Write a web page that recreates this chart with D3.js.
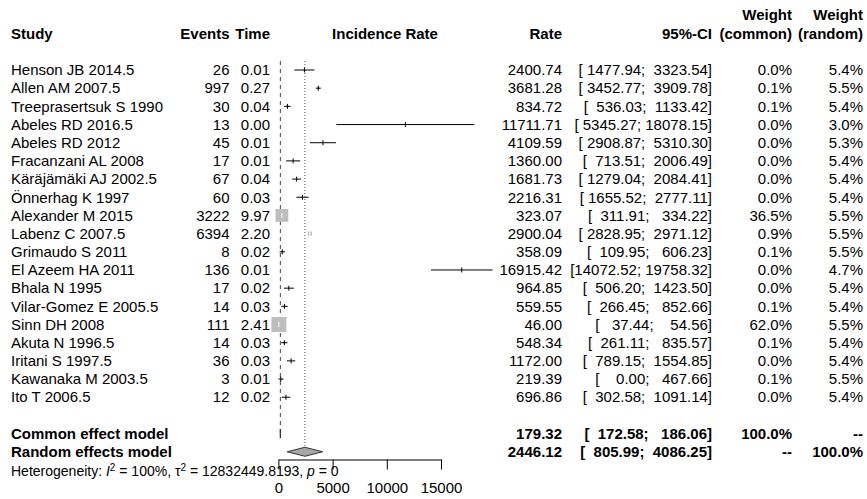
<!DOCTYPE html>
<html lang="en">
<head>
    <meta charset="UTF-8">
    <title>Forest plot - incidence rate</title>
    <script src="https://d3js.org/d3.v7.min.js"></script>
    <style>
        body { margin: 0; background: #fff; }
        svg text { font-family: "Liberation Sans", Arial, Helvetica, sans-serif; white-space: pre; }
    </style>
</head>
<body>
    <div id="chart"></div>
    <script>
        const studies = ["Henson JB 2014.5", "Allen AM 2007.5", "Treeprasertsuk S 1990", "Abeles RD 2016.5",
            "Abeles RD 2012", "Fracanzani AL 2008", "Käräjämäki AJ 2002.5", "Önnerhag K 1997",
            "Alexander M 2015", "Labenz C 2007.5", "Grimaudo S 2011", "El Azeem HA 2011", "Bhala N 1995",
            "Vilar-Gomez E 2005.5", "Sinn DH 2008", "Akuta N 1996.5", "Iritani S 1997.5",
            "Kawanaka M 2003.5", "Ito T 2006.5"];
        const events = [26, 997, 30, 13, 45, 17, 67, 60, 3222, 6394, 8, 136, 17, 14, 111, 14, 36, 3, 12];
        const times = ["0.01", "0.27", "0.04", "0.00", "0.01", "0.01", "0.04", "0.03", "9.97", "2.20",
            "0.02", "0.01", "0.02", "0.03", "2.41", "0.03", "0.03", "0.01", "0.02"];
        const rates = [2400.74, 3681.28, 834.72, 11711.71, 4109.59, 1360.00, 1681.73, 2216.31, 323.07, 2900.04,
            358.09, 16915.42, 964.85, 559.55, 46.00, 548.34, 1172.00, 219.39, 696.86];
        const lower = [1477.94, 3452.77, 536.03, 5345.27, 2908.87, 713.51, 1279.04, 1655.52, 311.91, 2828.95,
            109.95, 14072.52, 506.20, 266.45, 37.44, 261.11, 789.15, 0.00, 302.58];
        const upper = [3323.54, 3909.78, 1133.42, 18078.15, 5310.30, 2006.49, 2084.41, 2777.11, 334.22, 2971.12,
            606.23, 19758.32, 1423.50, 852.66, 54.56, 835.57, 1554.85, 467.66, 1091.14];
        const wCommon = [0.0, 0.1, 0.1, 0.0, 0.0, 0.0, 0.0, 0.0, 36.5, 0.9, 0.1, 0.0, 0.0, 0.1, 62.0, 0.1, 0.0, 0.1, 0.0];
        const wRandom = [5.4, 5.5, 5.4, 3.0, 5.3, 5.4, 5.4, 5.4, 5.5, 5.5, 5.5, 4.7, 5.4, 5.4, 5.5, 5.4, 5.4, 5.5, 5.4];

        const models = ["Common effect model", "Random effects model"];
        const modelRate = [179.32, 2446.12];
        const modelLower = [172.58, 805.99];
        const modelUpper = [186.06, 4086.25];
        const modelWCommon = ["100.0%", "--"];
        const modelWRandom = ["--", "100.0%"];

        const axisTicks = [0, 5000, 10000, 15000];
        const heterogeneity = { i2: "100%", tau2: "12832449.8193", p: "0" };

        const width = 867, height = 499;
        const fs = 15;
        const y0 = 70, dy = 18.18;
        const rowY = i => y0 + i * dy;

        const x = d3.scaleLinear().domain([0, 15000]).range([278.4, 441]);
        const box = d3.scalePow().exponent(0.3).domain([0, 62]).range([0, 15]);

        const svg = d3.select("#chart").append("svg")
            .attr("width", width)
            .attr("height", height)
            .attr("viewBox", [0, 0, width, height]);

        function txt(xp, yp, s, anchor, bold, size) {
            return svg.append("text")
                .attr("x", xp).attr("y", yp).attr("dy", "0.35em")
                .attr("text-anchor", anchor || "start")
                .attr("font-size", size || fs)
                .attr("font-weight", bold ? "bold" : "normal")
                .attr("fill", "#000")
                .text(s);
        }

        const pad = (v, n) => v.toFixed(2).padStart(n, " ");
        const ci = (l, u, n) => "[" + pad(l, n) + "; " + pad(u, n) + "]";

        // column positions (right edges)
        const colEvents = 229.5, colTime = 270, colRate = 562, colCI = 712, colWC = 792, colWR = 863;

        // header
        txt(11, 34, "Study", "start", true);
        txt(colEvents, 34, "Events", "end", true);
        txt(colTime, 34, "Time", "end", true);
        txt(385, 34, "Incidence Rate", "middle", true);
        txt(colRate, 34, "Rate", "end", true);
        txt(colCI, 34, "95%-CI", "end", true);
        txt(colWC, 15, "Weight", "end", true);
        txt(colWC, 34, "(common)", "end", true);
        txt(colWR, 15, "Weight", "end", true);
        txt(colWR, 34, "(random)", "end", true);

        // reference lines
        svg.append("line")
            .attr("x1", x(modelRate[0])).attr("x2", x(modelRate[0]))
            .attr("y1", rowY(0) - 9).attr("y2", rowY(20))
            .attr("stroke", "#444").attr("stroke-dasharray", "4,4");
        svg.append("line")
            .attr("x1", x(modelRate[1])).attr("x2", x(modelRate[1]))
            .attr("y1", rowY(0) - 9).attr("y2", rowY(21) - 5)
            .attr("stroke", "#555").attr("stroke-dasharray", "1,2");

        // study rows
        studies.forEach((s, i) => {
            const y = rowY(i);
            txt(11, y, s);
            txt(colEvents, y, String(events[i]), "end");
            txt(colTime, y, times[i], "end");
            txt(colRate, y, rates[i].toFixed(2), "end");
            txt(colCI, y, ci(lower[i], upper[i], 8), "end");
            txt(colWC, y, wCommon[i].toFixed(1) + "%", "end");
            txt(colWR, y, wRandom[i].toFixed(1) + "%", "end");

            const side = box(wCommon[i]);
            const xl = x(lower[i]), xu = x(upper[i]), xm = x(rates[i]);
            const inside = side > 0 && xl >= xm - side / 2 && xu <= xm + side / 2;
            if (side > 0) {
                svg.append("rect")
                    .attr("x", xm - side / 2).attr("y", y - side / 2)
                    .attr("width", side).attr("height", side)
                    .attr("fill", "#bebebe");
            }
            const col = inside ? "#fff" : "#000";
            svg.append("line")
                .attr("x1", xl).attr("x2", xu).attr("y1", y).attr("y2", y)
                .attr("stroke", col).attr("stroke-width", 1);
            svg.append("line")
                .attr("x1", xm).attr("x2", xm).attr("y1", y - 2.5).attr("y2", y + 2.5)
                .attr("stroke", col).attr("stroke-width", 1);
        });

        // summary rows
        models.forEach((m, k) => {
            const y = rowY(20 + k);
            txt(11, y, m, "start", true);
            txt(colRate, y, modelRate[k].toFixed(2), "end", true);
            txt(colCI, y, ci(modelLower[k], modelUpper[k], 8), "end", true);
            txt(colWC, y, modelWCommon[k], "end", true);
            txt(colWR, y, modelWRandom[k], "end", true);
            const h = 4.5;
            svg.append("polygon")
                .attr("points", [
                    [x(modelLower[k]), y], [x(modelRate[k]), y - h],
                    [x(modelUpper[k]), y], [x(modelRate[k]), y + h]
                ].map(p => p.join(",")).join(" "))
                .attr("fill", "#a6a6a6").attr("stroke", "#333").attr("stroke-width", 1);
        });

        // x axis
        const axisG = svg.append("g")
            .attr("transform", "translate(0,459.5)")
            .call(d3.axisBottom(x).tickValues(axisTicks).tickSize(10).tickSizeOuter(0).tickPadding(13)
                .tickFormat(d3.format("d")));
        axisG.select(".domain").attr("stroke", "#000");
        axisG.selectAll(".tick line").attr("stroke", "#000");
        axisG.selectAll(".tick text")
            .attr("font-size", fs).attr("fill", "#000")
            .attr("font-family", "Liberation Sans, Arial, sans-serif");

        // heterogeneity
        const het = svg.append("text")
            .attr("x", 11).attr("y", rowY(22) + 1.5).attr("dy", "0.35em")
            .attr("font-size", 14).attr("fill", "#000");
        het.append("tspan").text("Heterogeneity: ");
        het.append("tspan").attr("font-style", "italic").text("I");
        het.append("tspan").attr("baseline-shift", "super").attr("font-size", 10).text("2");
        het.append("tspan").text(" = " + heterogeneity.i2 + ", τ");
        het.append("tspan").attr("baseline-shift", "super").attr("font-size", 10).text("2");
        het.append("tspan").text(" = " + heterogeneity.tau2 + ", ");
        het.append("tspan").attr("font-style", "italic").text("p");
        het.append("tspan").text(" = " + heterogeneity.p);
    </script>
</body>
</html>
